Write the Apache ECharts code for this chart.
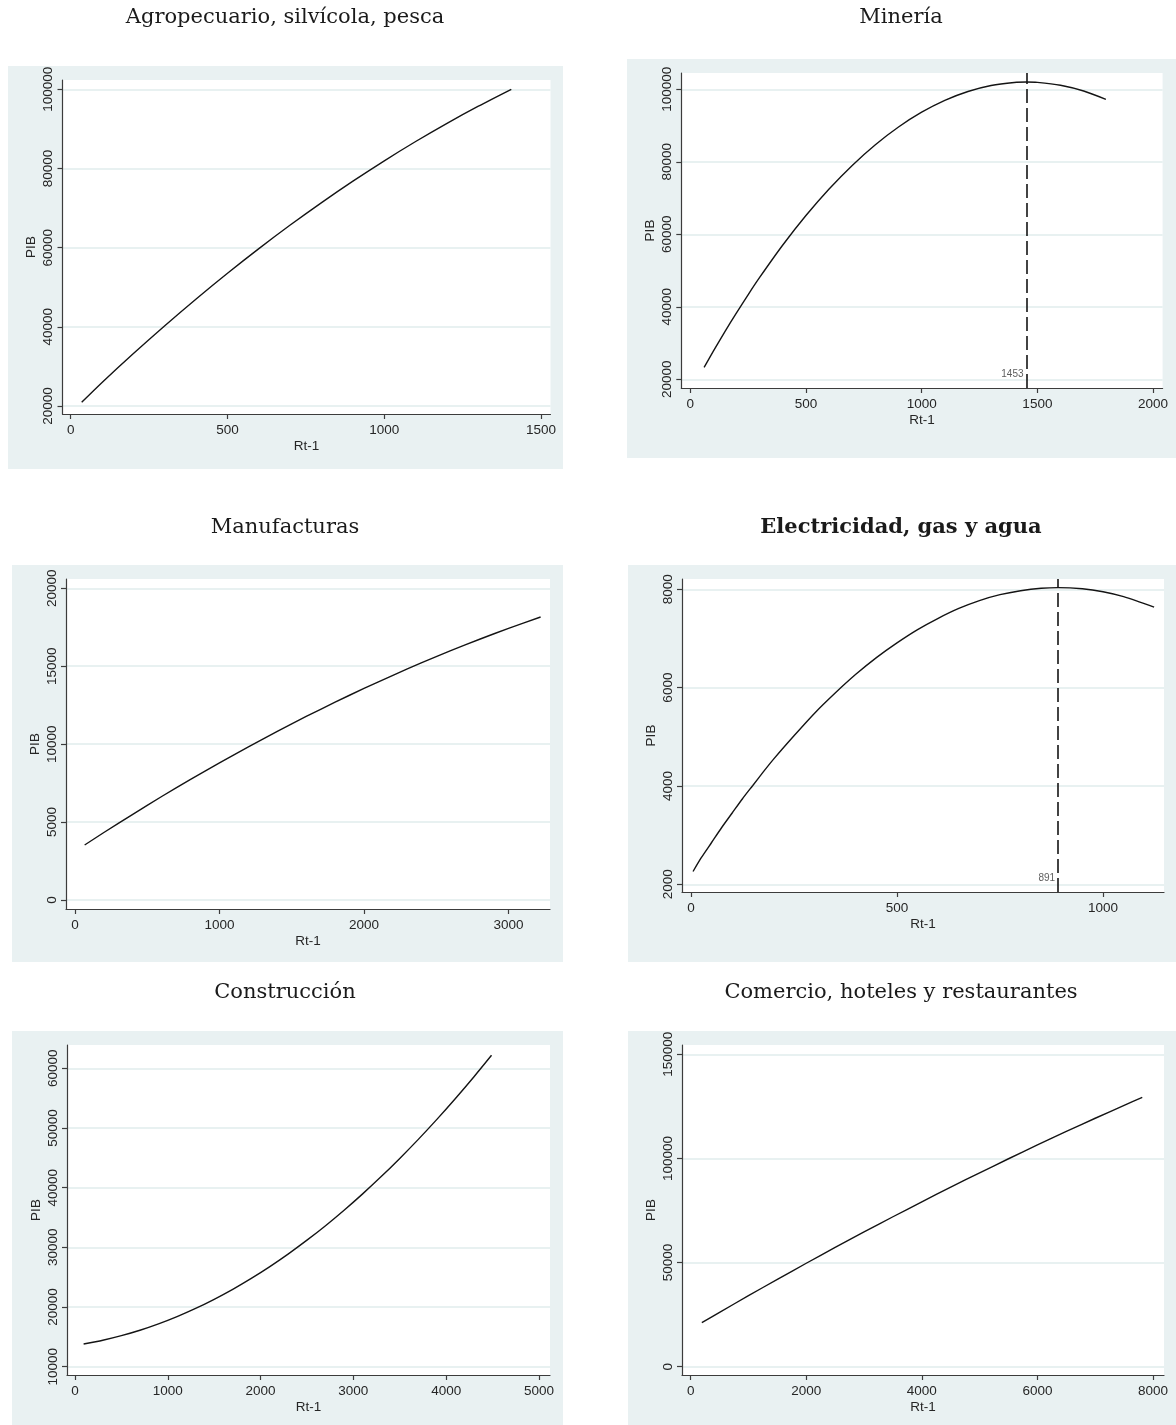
<!DOCTYPE html>
<html><head><meta charset="utf-8">
<script src="https://cdn.jsdelivr.net/npm/echarts@6/dist/echarts.min.js"></script>
<style>html,body{margin:0;padding:0;background:#fff}#c{width:1176px;height:1425px}</style>
</head><body><div id="c"></div>
<script>
// ---------- DATA ----------
const panelTitles = ["Agropecuario, silvícola, pesca", "Minería", "Manufacturas", "Electricidad, gas y agua", "Construcción", "Comercio, hoteles y restaurantes"];
const xName = "Rt-1";
const yName = "PIB";

const agroX = [35, 100, 200, 300, 400, 500, 600, 700, 800, 900, 1000, 1100, 1200, 1300, 1405];
const agroY = [20950, 25960, 33260, 40290, 47050, 53540, 59760, 65710, 71390, 76800, 81940, 86810, 91410, 95740, 100000];

const mineriaX = [60, 100, 150, 200, 250, 300, 400, 500, 600, 700, 800, 900, 1000, 1100, 1200, 1300, 1400, 1453, 1500, 1600, 1700, 1796];
const mineriaY = [23310, 27770, 33150, 38340, 43310, 48090, 57040, 65170, 72500, 79010, 84710, 89600, 93680, 96950, 99400, 101050, 101890, 102000, 101910, 101120, 99530, 97230];

const manufX = [67, 200, 400, 600, 800, 1000, 1200, 1400, 1600, 1800, 2000, 2200, 2400, 2600, 2800, 3000, 3222];
const manufY = [3530, 4330, 5500, 6640, 7740, 8800, 9830, 10820, 11780, 12690, 13580, 14420, 15230, 16000, 16730, 17430, 18160];

const elecX = [5, 25, 50, 75, 100, 125, 150, 175, 200, 250, 300, 350, 400, 450, 500, 550, 600, 650, 700, 750, 800, 850, 891, 950, 1000, 1050, 1124];
const elecY = [2260, 2540, 2850, 3160, 3450, 3740, 4010, 4280, 4540, 5020, 5480, 5890, 6270, 6610, 6910, 7180, 7410, 7610, 7770, 7890, 7970, 8020, 8034, 8010, 7950, 7850, 7636];

const construX = [93, 300, 500, 700, 900, 1100, 1300, 1500, 1700, 1900, 2100, 2300, 2500, 2700, 2900, 3100, 3300, 3500, 3700, 3900, 4100, 4300, 4489];
const construY = [13800, 14430, 15200, 16110, 17180, 18400, 19770, 21300, 22970, 24800, 26780, 28910, 31200, 33630, 36220, 38960, 41850, 44900, 48090, 51440, 54940, 58590, 62180];

const comercioX = [193, 500, 1000, 1500, 2000, 2500, 3000, 3500, 4000, 4500, 5000, 5500, 6000, 6500, 7000, 7500, 7814];
const comercioY = [21120, 26100, 34090, 41950, 49670, 57250, 64690, 72000, 79170, 86200, 93090, 99850, 106470, 112950, 119290, 125500, 129320];

// turning points (vertical dashed lines)
const mineriaPeak = [1453];
const elecPeak = [891];

// tick labels
const agroXTicks = [0, 500, 1000, 1500];
const agroYTicks = [20000, 40000, 60000, 80000, 100000];
const mineriaXTicks = [0, 500, 1000, 1500, 2000];
const mineriaYTicks = [20000, 40000, 60000, 80000, 100000];
const manufXTicks = [0, 1000, 2000, 3000];
const manufYTicks = [0, 5000, 10000, 15000, 20000];
const elecXTicks = [0, 500, 1000];
const elecYTicks = [2000, 4000, 6000, 8000];
const construXTicks = [0, 1000, 2000, 3000, 4000, 5000];
const construYTicks = [10000, 20000, 30000, 40000, 50000, 60000];
const comercioXTicks = [0, 2000, 4000, 6000, 8000];
const comercioYTicks = [0, 50000, 100000, 150000];

// ---------- LAYOUT / STYLE ----------
const panels = [
  {xs: agroX, ys: agroY, xt: agroXTicks, yt: agroYTicks, peak: null,
   bg: [8, 66, 555, 403], grid: [62.5, 80, 488, 334], xr: [-26.2, 1530], yr: [17979, 102349], title: [285, 19]},
  {xs: mineriaX, ys: mineriaY, xt: mineriaXTicks, yt: mineriaYTicks, peak: mineriaPeak,
   bg: [627, 59, 549, 399], grid: [681.3, 73, 481.3, 315], xr: [-38.5, 2041], yr: [17600, 104497], title: [901, 19]},
  {xs: manufX, ys: manufY, xt: manufXTicks, yt: manufYTicks, peak: null,
   bg: [12, 565, 551, 397], grid: [66, 579, 484, 330], xr: [-62, 3287], yr: [-577, 20597], title: [285, 529]},
  {xs: elecX, ys: elecY, xt: elecXTicks, yt: elecYTicks, peak: elecPeak,
   bg: [628, 565, 548, 397], grid: [682, 579, 482, 313], xr: [-21.8, 1148], yr: [1843, 8209], title: [901, 529], bold: true},
  {xs: construX, ys: construY, xt: construXTicks, yt: construYTicks, peak: null,
   bg: [12, 1031, 551, 394], grid: [67, 1045, 483, 330], xr: [-86, 5119], yr: [8609, 63904], title: [285, 994]},
  {xs: comercioX, ys: comercioY, xt: comercioXTicks, yt: comercioYTicks, peak: null,
   bg: [628, 1031, 548, 394], grid: [682, 1045, 482, 330], xr: [-150, 8190], yr: [-3985, 154465], title: [901, 994]}
];

const SANS = "'Liberation Sans', Arial, Helvetica, sans-serif";
const SERIF = "'DejaVu Serif', 'Liberation Serif', serif";
const AXIS_COLOR = '#3c3c3c';
const TEXT_COLOR = '#262626';
const GRID_COLOR = '#E0ECEC';
const PANEL_BG = '#E9F1F2';
const TITLE_SIZE = 21;

const option = {
  animation: false,
  backgroundColor: '#ffffff',
  title: [], grid: [], xAxis: [], yAxis: [], series: [], graphic: []
};

panels.forEach((p, i) => {
  option.graphic.push({
    type: 'rect', z: -100, silent: true,
    shape: {x: p.bg[0], y: p.bg[1], width: p.bg[2], height: p.bg[3]},
    style: {fill: PANEL_BG}
  });
  option.title.push({
    text: panelTitles[i], left: p.title[0], top: p.title[1] - TITLE_SIZE / 2 - 1, textAlign: 'center', padding: 0,
    textStyle: {fontFamily: SERIF, fontSize: TITLE_SIZE, fontWeight: p.bold ? 'bold' : 'normal', color: '#1a1a1a'}
  });
  option.grid.push({
    left: p.grid[0], top: p.grid[1], width: p.grid[2], height: p.grid[3],
    show: true, backgroundColor: '#ffffff', borderWidth: 0, containLabel: false
  });
  option.xAxis.push({
    gridIndex: i, type: 'value', min: p.xr[0], max: p.xr[1],
    name: xName, nameLocation: 'middle', nameGap: 25,
    nameTextStyle: {fontFamily: SANS, fontSize: 13.5, color: TEXT_COLOR},
    axisLine: {show: true, onZero: false, lineStyle: {color: AXIS_COLOR, width: 1.2}},
    axisTick: {show: true, length: 5, customValues: p.xt, lineStyle: {color: AXIS_COLOR, width: 1.2}},
    axisLabel: {customValues: p.xt, margin: 9, fontFamily: SANS, fontSize: 13.5, color: TEXT_COLOR,
      formatter: (v) => String(v)},
    splitLine: {show: false}
  });
  option.yAxis.push({
    gridIndex: i, type: 'value', min: p.yr[0], max: p.yr[1],
    name: yName, nameLocation: 'middle', nameGap: 24, nameRotate: 90,
    nameTextStyle: {fontFamily: SANS, fontSize: 13.5, color: TEXT_COLOR},
    axisLine: {show: true, onZero: false, lineStyle: {color: AXIS_COLOR, width: 1.2}},
    axisTick: {show: true, length: 5, customValues: p.yt, lineStyle: {color: AXIS_COLOR, width: 1.2}},
    axisLabel: {customValues: p.yt, rotate: 90, margin: 7, fontFamily: SANS, fontSize: 13.5, color: TEXT_COLOR,
      formatter: (v) => String(v)},
    splitLine: {show: true, lineStyle: {color: GRID_COLOR, width: 1.5}}
  });
  const s = {
    type: 'line', xAxisIndex: i, yAxisIndex: i, showSymbol: false, symbol: 'none', silent: true,
    smooth: 0.25,
    data: p.xs.map((x, k) => [x, p.ys[k]]),
    lineStyle: {color: '#141414', width: 1.4}
  };
  if (p.peak) {
    s.markLine = {
      silent: true, symbol: ['none', 'none'],
      data: p.peak.map(v => ({xAxis: v})),
      lineStyle: {color: '#141414', width: 1.6, type: [14, 5]},
      label: {show: false}
    };
  }
  option.series.push(s);
  if (p.peak) {
    option.series.push({
      type: 'scatter', xAxisIndex: i, yAxisIndex: i, symbolSize: 0, silent: true,
      data: p.peak.map(v => [v, p.yr[0]]),
      label: {show: true, position: 'top', align: 'right', distance: 9, offset: [-3, 0],
        formatter: (d) => String(d.value[0]), fontFamily: SANS, fontSize: 10, color: '#333'}
    });
  }
});

const chart = echarts.init(document.getElementById('c'), null, {renderer: 'canvas'});
chart.setOption(option);
</script>
</body></html>
